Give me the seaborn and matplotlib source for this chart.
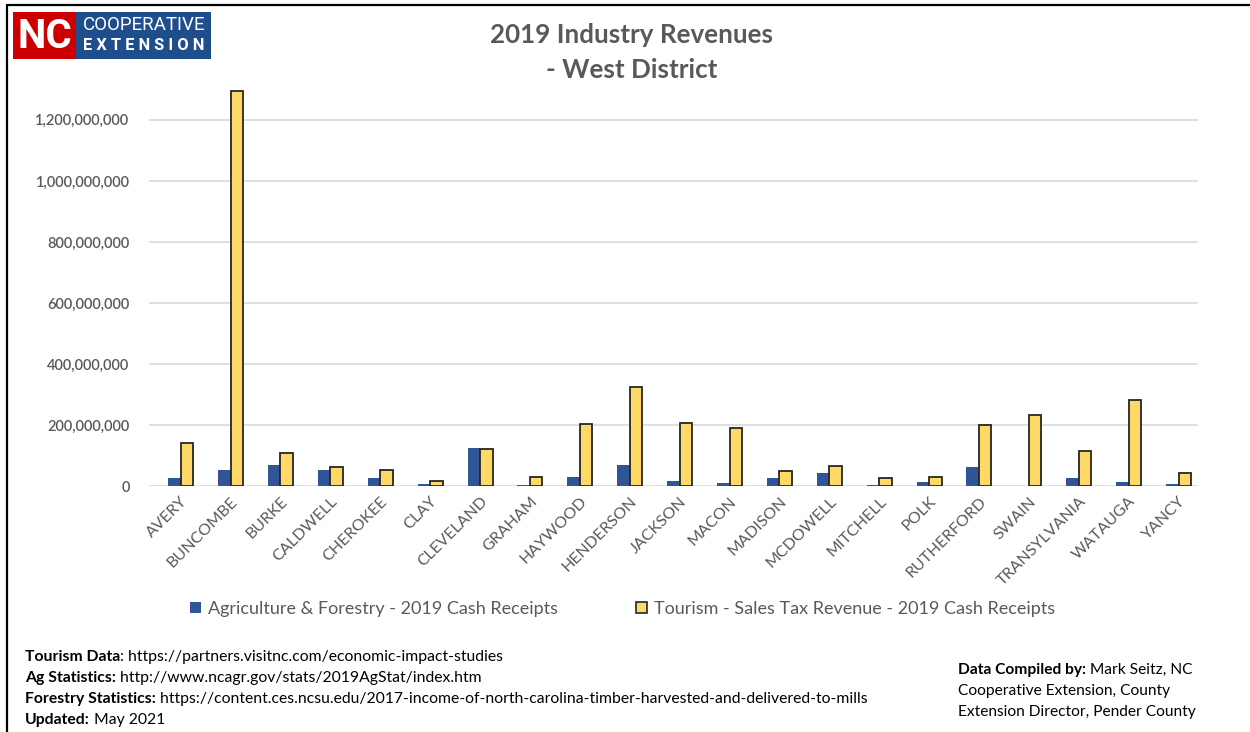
import matplotlib
matplotlib.use("Agg")
import matplotlib.pyplot as plt
import matplotlib.patches as mpatches
from matplotlib.lines import Line2D
from matplotlib.ticker import FuncFormatter, MultipleLocator
import pandas as pd
import seaborn as sns

# ---- data ----
counties = ["AVERY", "BUNCOMBE", "BURKE", "CALDWELL", "CHEROKEE", "CLAY", "CLEVELAND",
            "GRAHAM", "HAYWOOD", "HENDERSON", "JACKSON", "MACON", "MADISON", "MCDOWELL",
            "MITCHELL", "POLK", "RUTHERFORD", "SWAIN", "TRANSYLVANIA", "WATAUGA", "YANCY"]
ag_forestry = [26e6, 53e6, 68e6, 51e6, 27e6, 6e6, 124e6,
               3e6, 31e6, 69e6, 16e6, 9e6, 27e6, 43e6,
               4e6, 12e6, 63e6, 0, 27e6, 12e6, 6e6]
tourism = [141e6, 1295e6, 109e6, 61e6, 54e6, 15e6, 121e6,
           31e6, 202e6, 326e6, 207e6, 191e6, 48e6, 65e6,
           25e6, 29e6, 201e6, 234e6, 115e6, 283e6, 43e6]
series_names = ["Agriculture & Forestry - 2019 Cash Receipts",
                "Tourism - Sales Tax Revenue - 2019 Cash Receipts"]

df = pd.DataFrame({
    "County": counties * 2,
    "Revenue": ag_forestry + tourism,
    "Series": [series_names[0]] * len(counties) + [series_names[1]] * len(counties),
})

BLUE = "#2F5597"
YELLOW = "#FFD966"
GREY = "#595959"

sns.set_theme(style="white")
plt.rcParams["font.family"] = ["Lato", "DejaVu Sans"]

fig = plt.figure(figsize=(12.5, 7.32), dpi=100)
ax = fig.add_axes([0.1192, 0.336, 0.8392, 0.542])

sns.barplot(data=df, x="County", y="Revenue", hue="Series", order=counties,
            hue_order=series_names, palette=[BLUE, YELLOW], width=0.5,
            dodge=True, gap=0, saturation=1, legend=False, ax=ax, zorder=3)

# dark outline on the tourism bars
for bar in ax.containers[1]:
    bar.set_edgecolor("#262626")
    bar.set_linewidth(1.3)
for bar in ax.containers[0]:
    bar.set_linewidth(0)

ax.set_ylim(0, 1300e6)
ax.set_xlim(-0.635, 20.39)
ax.yaxis.set_major_locator(MultipleLocator(200e6))
ax.yaxis.set_major_formatter(FuncFormatter(lambda v, p: f"{v:,.0f}" if v <= 1200e6 else ""))
ax.grid(axis="y", color="#D9D9D9", linewidth=1.2, zorder=0)
ax.set_axisbelow(True)
for s in ax.spines.values():
    s.set_visible(False)
ax.set_xlabel("")
ax.set_ylabel("")
ax.tick_params(axis="both", length=0, colors=GREY)
ax.tick_params(axis="y", labelsize=10.5, pad=14)
ax.tick_params(axis="x", labelsize=11.5, pad=6)
plt.setp(ax.get_xticklabels(), rotation=45, ha="right", rotation_mode="anchor")
plt.setp(ax.get_yticklabels(), fontweight="semibold")

# title
fig.text(0.505, 0.952, "2019 Industry Revenues", ha="center", va="center",
         fontsize=18.7, fontweight="bold", color=GREY)
fig.text(0.505, 0.904, "- West District", ha="center", va="center",
         fontsize=18.7, fontweight="bold", color=GREY)

# legend
handles = [mpatches.Patch(facecolor=BLUE, edgecolor=BLUE, linewidth=0),
           mpatches.Patch(facecolor=YELLOW, edgecolor="#262626", linewidth=1.2)]
fig.legend(handles, series_names, loc="center", bbox_to_anchor=(0.498, 0.168), ncol=2,
           frameon=False, fontsize=13, labelcolor=GREY, handlelength=0.6,
           handleheight=0.6, handletextpad=0.4, columnspacing=4.3)

# logo
fig.patches.append(mpatches.Rectangle((13 / 1250, 1 - 59 / 732), 63 / 1250, 47 / 732,
                                      transform=fig.transFigure, facecolor="#CC0000",
                                      edgecolor="none"))
fig.patches.append(mpatches.Rectangle((76 / 1250, 1 - 59 / 732), 135 / 1250, 47 / 732,
                                      transform=fig.transFigure, facecolor="#1F4E8C",
                                      edgecolor="none"))
fig.text(44.5 / 1250, 1 - 37 / 732, "NC", ha="center", va="center", color="white",
         fontsize=29, fontweight="bold", family=["Roboto", "DejaVu Sans"])
fig.text(144 / 1250, 1 - 25 / 732, "COOPERATIVE", ha="center", va="center", color="white",
         fontsize=13.5, family=["Roboto", "DejaVu Sans"])
fig.text(144 / 1250, 1 - 46 / 732, "E X T E N S I O N", ha="center", va="center",
         color="white", fontsize=11.8, fontweight="bold", family=["Roboto", "DejaVu Sans"])

# frame lines along top and left edge
fig.add_artist(Line2D([7 / 1250, 1.0], [1 - 5 / 732, 1 - 5 / 732],
                      transform=fig.transFigure, color="black", linewidth=1.6))
fig.add_artist(Line2D([7 / 1250, 7 / 1250], [0, 1 - 5 / 732],
                      transform=fig.transFigure, color="black", linewidth=1.6))

# footer notes with bold labels
fig.canvas.draw()
renderer = fig.canvas.get_renderer()


def mixed_line(x_px, y_px, bold, regular, size):
    t = fig.text(x_px / 1250, 1 - y_px / 732, bold, ha="left", va="center",
                 fontsize=size, fontweight="bold", color="black")
    w = t.get_window_extent(renderer=renderer).width
    fig.text((x_px + w) / 1250, 1 - y_px / 732, regular, ha="left", va="center",
             fontsize=size, color="black")


footer_left = [
    ("Tourism Data", ": https://partners.visitnc.com/economic-impact-studies"),
    ("Ag Statistics:", " http://www.ncagr.gov/stats/2019AgStat/index.htm"),
    ("Forestry Statistics:", " https://content.ces.ncsu.edu/2017-income-of-north-carolina-timber-harvested-and-delivered-to-mills"),
    ("Updated:", " May 2021"),
]
for i, (b, r) in enumerate(footer_left):
    mixed_line(25, 657 + i * 21, b, r, 11.3)

mixed_line(958, 670, "Data Compiled by:", " Mark Seitz, NC", 11.2)
fig.text(958 / 1250, 1 - 691 / 732, "Cooperative Extension, County", ha="left",
         va="center", fontsize=11.2, color="black")
fig.text(958 / 1250, 1 - 712 / 732, "Extension Director, Pender County", ha="left",
         va="center", fontsize=11.2, color="black")

fig.savefig("out.png", dpi=100, facecolor="white")
